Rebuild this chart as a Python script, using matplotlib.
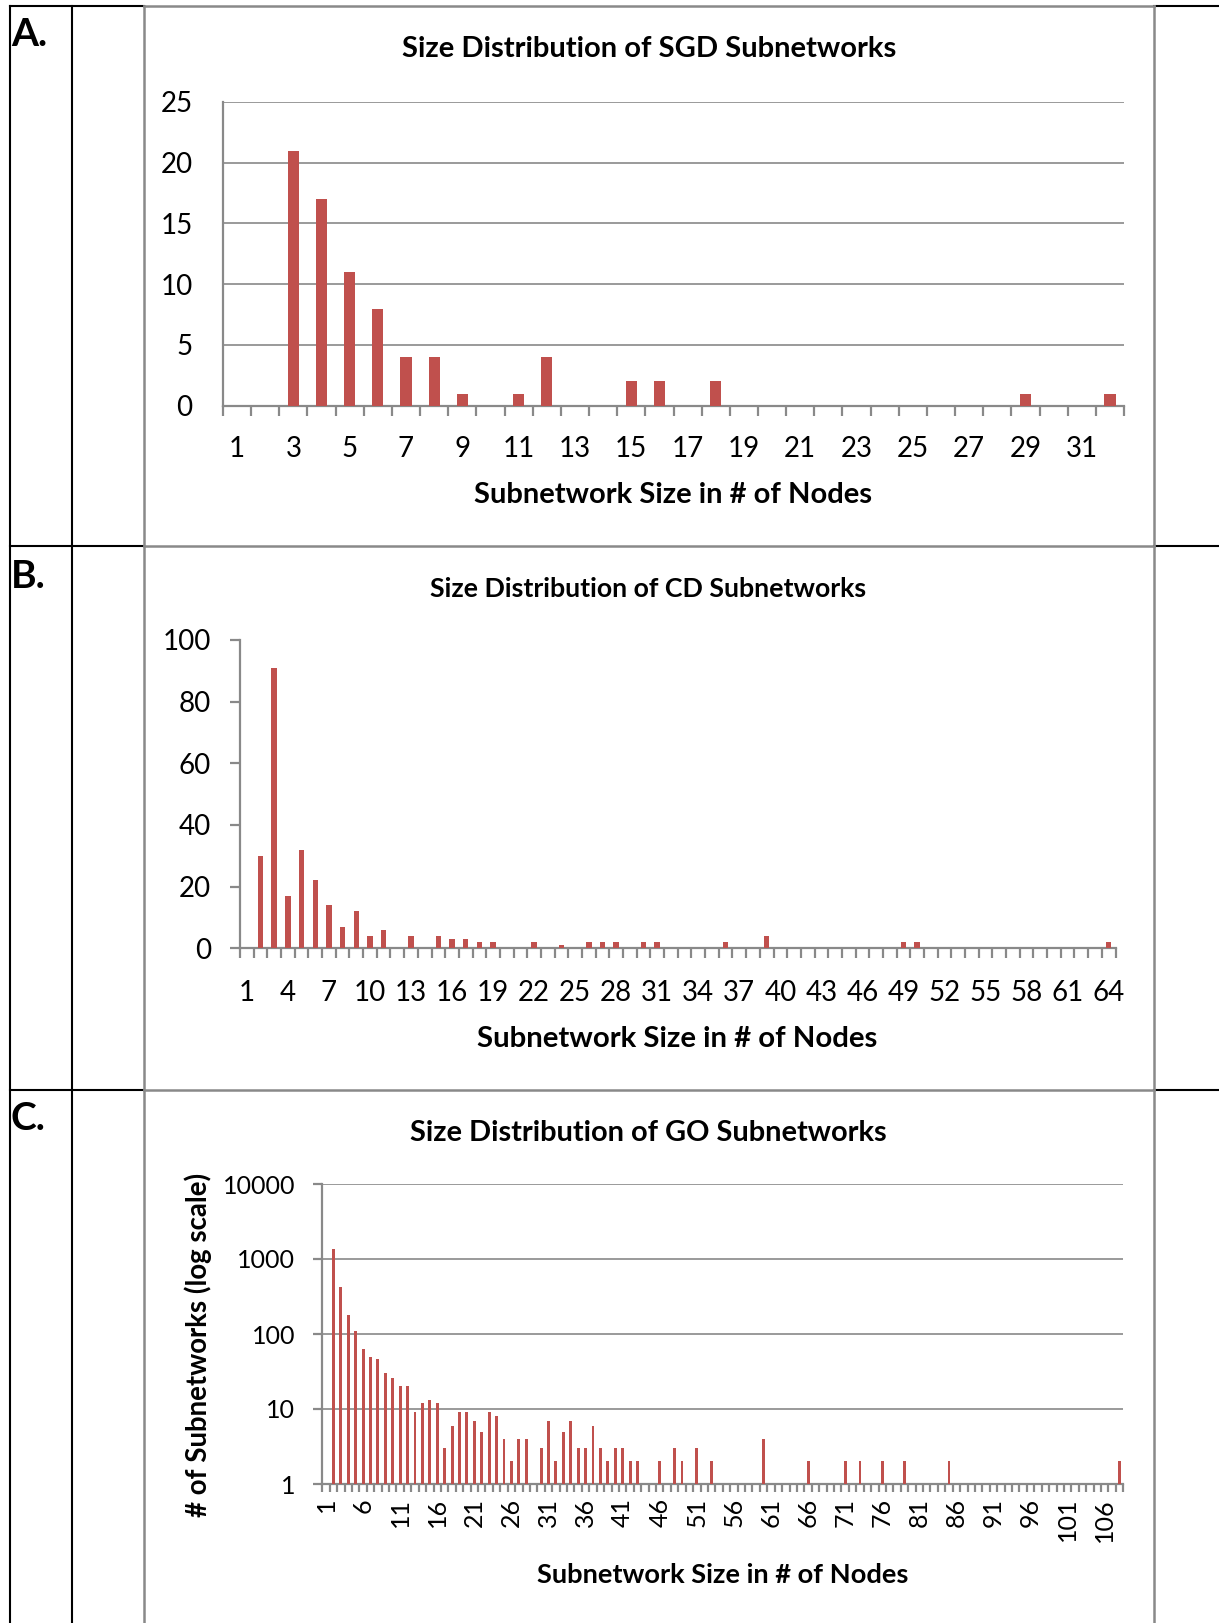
import numpy as np
import matplotlib.pyplot as plt

plt.rcParams['font.family'] = ['Lato', 'DejaVu Sans']

W, H = 1219, 1623
BAR = '#C0504D'
GRAY = '#898989'

# subnetwork size (1..N) -> number of subnetworks
sgd_counts = [0, 0, 21, 17, 11, 8, 4, 4, 1, 0,
              1, 4, 0, 0, 2, 2, 0, 2, 0, 0,
              0, 0, 0, 0, 0, 0, 0, 0, 1, 0,
              0, 1]
cd_counts = [0, 30, 91, 17, 32, 22, 14, 7, 12, 4,
             6, 0, 4, 0, 4, 3, 3, 2, 2, 0,
             0, 2, 0, 1, 0, 2, 2, 2, 0, 2,
             2, 0, 0, 0, 0, 2, 0, 0, 4, 0,
             0, 0, 0, 0, 0, 0, 0, 0, 2, 2,
             0, 0, 0, 0, 0, 0, 0, 0, 0, 0,
             0, 0, 0, 2]
go_counts = [0, 1380, 420, 180, 108, 64, 50, 46, 30, 26,
             20, 20, 9, 12, 13, 12, 3, 6, 9, 9,
             7, 5, 9, 8, 4, 2, 4, 4, 0, 3,
             7, 2, 5, 7, 3, 3, 6, 3, 2, 3,
             3, 2, 2, 0, 0, 2, 0, 3, 2, 0,
             3, 0, 2, 0, 0, 0, 0, 0, 0, 4,
             0, 0, 0, 0, 0, 2, 0, 0, 0, 0,
             2, 0, 2, 0, 0, 2, 0, 0, 2, 0,
             0, 0, 0, 0, 2, 0, 0, 0, 0, 0,
             0, 0, 0, 0, 0, 0, 0, 0, 0, 0,
             0, 0, 0, 0, 0, 0, 0, 2]

titles = ['Size Distribution of SGD Subnetworks',
          'Size Distribution of CD Subnetworks',
          'Size Distribution of GO Subnetworks']
xlabel = 'Subnetwork Size in # of Nodes'
ylabel_go = '# of Subnetworks (log scale)'


def rect(l, t, r, b):
    return [l / W, 1 - b / H, (r - l) / W, (b - t) / H]


fig = plt.figure(figsize=(W / 100, H / 100), dpi=100)

# table grid behind the charts
bg = fig.add_axes([0, 0, 1, 1], zorder=0)
bg.set_xlim(0, W)
bg.set_ylim(H, 0)
bg.axis('off')
for x in (10, 72):
    bg.plot([x, x], [6, H], color='black', lw=1.5)
for y in (6, 546, 1090):
    bg.plot([10, 144], [y, y], color='black', lw=1.5)
    bg.plot([1154, W], [y, y], color='black', lw=1.5)
    bg.plot([144, 1154], [y, y], color=GRAY, lw=1.8)
for x in (144, 1154):
    bg.plot([x, x], [6, H], color=GRAY, lw=1.8)

for lab, y in (('A.', 35), ('B.', 576), ('C.', 1119)):
    bg.text(11, y, lab, fontsize=28, fontweight='bold', ha='left', va='center')


def style_axes(ax, n, step, fs, ylen):
    x = np.arange(1, n + 1)
    ax.set_xlim(0.5, n + 0.5)
    for s in ('top', 'right'):
        ax.spines[s].set_visible(False)
    for s in ('left', 'bottom'):
        ax.spines[s].set_color(GRAY)
        ax.spines[s].set_linewidth(1.6)
    ax.set_xticks(x[::step])
    ax.set_xticks(np.arange(0.5, n + 1), minor=True)
    ax.tick_params(axis='x', which='major', length=0, labelsize=fs)
    ax.tick_params(axis='x', which='minor', length=7, width=1.6, color=GRAY,
                   direction='out')
    ax.tick_params(axis='y', which='major', length=ylen, width=1.6,
                   color=GRAY, labelsize=fs)
    ax.set_facecolor('none')
    return x


# A: SGD
ax = fig.add_axes(rect(223, 102, 1124, 405.7), zorder=2)
x = style_axes(ax, len(sgd_counts), 2, 20, 0)
ax.bar(x, sgd_counts, width=0.4, color=BAR, zorder=3)
ax.set_ylim(0, 25)
ax.set_yticks(range(0, 26, 5))
ax.yaxis.grid(True, color=GRAY, lw=1.2)
ax.set_axisbelow(True)
ax.tick_params(axis='x', which='major', pad=22)
ax.tick_params(axis='y', pad=22)
bg.text(649, 49, titles[0], fontsize=21, fontweight='bold', ha='center', va='center')
bg.text(673, 495, xlabel, fontsize=21, fontweight='bold', ha='center', va='center')

# B: CD
ax = fig.add_axes(rect(240, 640, 1115.5, 948.3), zorder=2)
x = style_axes(ax, len(cd_counts), 3, 20, 7)
ax.bar(x, cd_counts, width=0.4, color=BAR, zorder=3)
ax.set_ylim(0, 100)
ax.set_yticks(range(0, 101, 20))
ax.tick_params(axis='x', which='major', pad=23)
ax.tick_params(axis='y', pad=14)
bg.text(648, 589, titles[1], fontsize=19.3, fontweight='bold', ha='center', va='center')
bg.text(677, 1039, xlabel, fontsize=21.2, fontweight='bold', ha='center', va='center')

# C: GO, log scale
ax = fig.add_axes(rect(322.3, 1184, 1123.3, 1484), zorder=2)
x = style_axes(ax, len(go_counts), 5, 18, 6.5)
ax.set_yscale('log')
ax.bar(x, go_counts, width=0.4, color=BAR, zorder=3)
ax.set_ylim(1, 10000)
yt = [1, 10, 100, 1000, 10000]
ax.set_yticks(yt)
ax.set_yticklabels([str(v) for v in yt])
ax.minorticks_off()
ax.set_xticks(np.arange(0.5, len(go_counts) + 1), minor=True)
ax.tick_params(axis='x', which='minor', length=6, width=1.6, color=GRAY)
ax.yaxis.grid(True, color=GRAY, lw=1.2)
ax.set_axisbelow(True)
ax.tick_params(axis='x', which='major', pad=10, labelrotation=90)
ax.tick_params(axis='y', pad=13)
bg.text(648, 1133, titles[2], fontsize=20.9, fontweight='bold', ha='center', va='center')
bg.text(723, 1575, xlabel, fontsize=19.6, fontweight='bold', ha='center', va='center')
bg.text(198, 1345, ylabel_go, fontsize=19.9, fontweight='bold', ha='center',
        va='center', rotation=90)

fig.savefig('out.png', dpi=100)
